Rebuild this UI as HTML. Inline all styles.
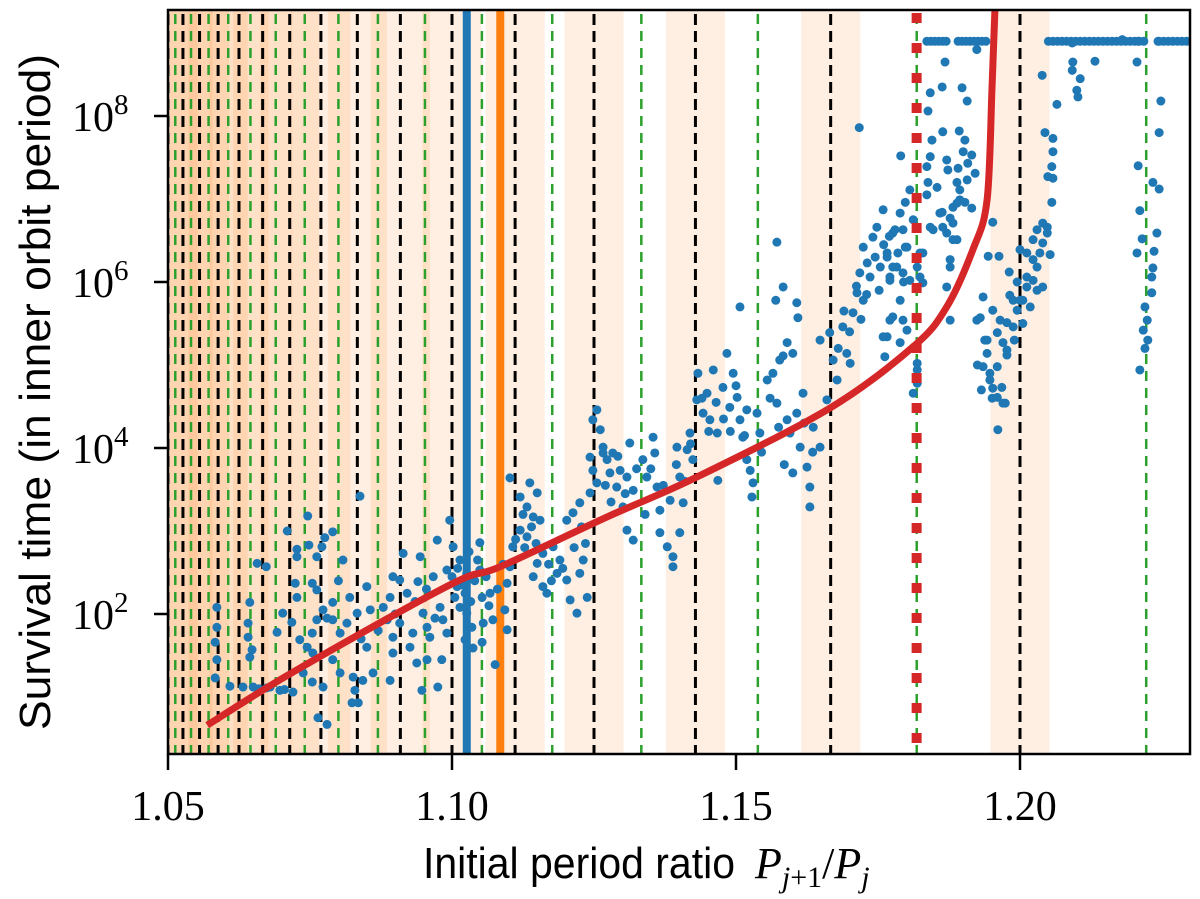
<!DOCTYPE html>
<html><head><meta charset="utf-8"><title>Survival time vs period ratio</title>
<style>html,body{margin:0;padding:0;background:#fff;}svg{display:block;}</style></head>
<body>
<svg id="chart" width="1200" height="899" viewBox="0 0 1200 899" xmlns="http://www.w3.org/2000/svg">
<defs><clipPath id="plotclip"><rect x="168" y="10" width="1022" height="744"/></clipPath></defs>
<g id="bands" clip-path="url(#plotclip)"></g>
<g id="reslines" clip-path="url(#plotclip)"></g>
<g id="vlines" clip-path="url(#plotclip)"></g>
<g id="points" clip-path="url(#plotclip)"></g>
<g id="curves" clip-path="url(#plotclip)"></g>
<rect x="168" y="10" width="1022" height="744" fill="none" stroke="#000" stroke-width="2.5"/>
<g id="axes"></g>
<text y="878" font-size="44" fill="#000"><tspan x="423" font-family="'Liberation Sans', sans-serif" textLength="312" lengthAdjust="spacingAndGlyphs">Initial period ratio</tspan><tspan x="755" font-family="'Liberation Serif', serif" font-style="italic">P</tspan><tspan font-family="'Liberation Serif', serif" font-style="italic" font-size="30" dy="9">j</tspan><tspan font-family="'Liberation Serif', serif" font-size="30">+1</tspan><tspan font-family="'Liberation Serif', serif" dy="-9">/</tspan><tspan font-family="'Liberation Serif', serif" font-style="italic">P</tspan><tspan font-family="'Liberation Serif', serif" font-style="italic" font-size="30" dy="9">j</tspan></text>
<text transform="translate(50,392) rotate(-90)" text-anchor="middle" font-family="'Liberation Sans', sans-serif" font-size="44" textLength="676" lengthAdjust="spacingAndGlyphs" fill="#000">Survival time (in inner orbit period)</text>
</svg>
<script>
const xTicks = [1.05, 1.10, 1.15, 1.20];
const xTickLabels = ["1.05", "1.10", "1.15", "1.20"];
const yTickExps = [2, 4, 6, 8];
const firstOrderK = [5,6,7,8,9,10,11,12,13,14,15,16,17,18,19,20];
const secondOrderK = [9,11,13,15,17,19,21,23,25,27,29,31,33,35,37,39];
const bandHalfWidth = 0.0052;
const blueLineX = 1.1026;
const orangeLineX = 1.1085;
const redDottedX = 1.1818;
const curveX = [1.0569,1.0720,1.0996,1.1085,1.1273,1.1428,1.1665,1.1812,1.1871,1.1917,1.1942,1.1951,1.1956];
const curveLogY = [0.66,1.30,2.35,2.57,3.17,3.64,4.48,5.22,5.70,6.39,6.99,8.40,9.30];
const capLogY = 8.9;
const capX = [1.1836,1.1843,1.1850,1.1857,1.1864,1.1870,1.1891,1.1898,1.1905,1.1912,1.1919,1.1926,1.1933,1.1940,
1.2050,1.2058,1.2066,1.2074,1.2082,1.2090,1.2098,1.2106,1.2114,1.2122,1.2130,1.2138,1.2146,1.2154,1.2162,1.2170,1.2178,1.2186,1.2194,1.2202,1.2210,1.2218,
1.2245,1.2253,1.2261,1.2269,1.2277,1.2285,1.2293,1.2300];
const pointsX = [1.0586,1.0586,1.0583,1.0586,1.0583,1.0609,1.0632,1.0650,1.0674,1.0697,1.0720,1.0644,1.0641,1.0641,1.0648,1.0644,1.0657,1.0673,1.0692,1.0702,
1.0710,1.0727,1.0727,1.0724,1.0727,1.0718,1.0732,1.0746,1.0748,1.0754,1.0762,1.0771,1.0776,1.0790,1.0808,1.0762,1.0762,1.0754,1.0745,1.0755,
1.0738,1.0754,1.0764,1.0780,1.0773,1.0773,1.0790,1.0790,1.0803,1.0790,1.0803,1.0815,1.0833,1.0838,1.0829,1.0824,1.0835,1.0843,1.0826,1.0850,
1.0856,1.0850,1.0861,1.0879,1.0886,1.0891,1.0896,1.0896,1.0896,1.0891,1.0908,1.0914,1.0908,1.0921,1.0926,1.0931,1.0938,1.0944,1.0940,1.0949,
1.0956,1.0961,1.0956,1.0947,1.0975,1.0974,1.0967,1.0979,1.0984,1.0982,1.0991,1.0996,1.0991,1.1002,1.1014,1.1009,1.1014,1.1026,1.1023,1.1026,
1.1035,1.1023,1.1037,1.1049,1.1049,1.1053,1.1055,1.1053,1.1067,1.1072,1.1076,1.1097,1.1097,1.1102,1.1107,1.1102,1.1120,1.1132,1.1137,1.1150,
1.1120,1.1132,1.1143,1.1155,1.1160,1.1150,1.1143,1.1160,1.1167,1.1178,1.1190,1.1185,1.1202,1.1213,1.1225,1.1202,1.1208,1.1220,1.1225,1.1238,
1.1231,1.1243,1.1248,1.1261,1.1266,1.1255,
1.1248,1.1255,1.1243,1.1266,1.1273,1.1283,1.1278,1.1296,1.1290,1.1308,1.1313,1.1319,1.1301,1.1308,1.1319,1.1336,1.1343,1.1354,1.1357,1.1361,
1.1366,1.1366,1.1379,1.1389,1.1389,1.1384,1.1401,1.1396,1.1414,1.1419,1.1401,1.1407,1.1424,1.1433,1.1431,1.1442,1.1449,1.1460,1.1454,1.1467,
1.1477,1.1484,1.1489,1.1495,1.1502,1.1507,1.1519,1.1512,1.1468,1.1507,1.1519,1.1525,1.1530,1.1528,1.1537,1.1542,1.1555,1.1565,1.1572,1.1577,
1.1583,1.1572,1.1590,1.1590,1.1600,1.1595,1.1607,1.1607,1.1609,1.1613,1.1618,1.1625,1.1630,1.1630,1.1636,1.1648,1.1648,1.1660,1.1665,1.1671,
1.1678,1.1688,1.1695,1.1701,1.1706,1.1713,1.1724,1.1718,1.1731,1.1724,1.1741,1.1736,1.1754,1.1748,1.1759,1.1766,1.1771,1.1776,1.1783,1.1789,
1.1766,1.1776,1.1794,1.1789,1.1801,1.1806,1.1812,1.1819,1.1824,1.1829,1.1812,1.1819,1.1842,1.1859,1.1871,1.1882,1.1877,1.1871,1.1877,1.1889,
1.1894,1.1935,1.1924,1.1942,1.1935,1.1947,1.1960,1.1970,1.1961,1.1977,1.1988,1.2000,1.2012,1.2023,1.2040,1.2048,
1.1868,1.1924,1.1842,1.1863,1.1898,1.1907,1.1838,1.1864,1.1893,1.1845,1.1903,1.1790,1.1842,1.1871,1.1900,1.1915,1.1836,1.1873,1.1891,1.1908,
1.1921,1.1838,1.1854,1.1889,1.1907,1.1836,1.1894,1.1806,1.1798,1.1889,1.1903,1.1915,1.1863,1.1877,1.1847,1.1864,1.1882,1.1882,1.1780,1.1798,
1.1829,1.1766,1.1776,1.1771,1.1794,1.1824,1.1877,1.1771,1.1794,1.1801,1.1759,1.1762,1.1789,1.1819,1.1819,1.1952,1.1944,1.1963,1.1981,1.1995,
1.1982,1.1930,1.1938,1.1952,1.1965,1.1977,1.1960,1.1970,1.1977,1.1942,1.1960,1.1947,1.1952,1.1968,1.1974,1.1951,1.2000,1.2012,1.2023,1.2030,
1.2040,1.2048,1.2035,1.2030,1.2023,1.2040,1.2012,1.2005,1.1988,1.1995,1.2053,1.2058,1.2058,1.2056,1.2049,1.2058,1.2056,1.2044,1.2039,1.2065,
1.2092,1.2093,1.2092,1.2106,1.2100,1.2102,1.2132,1.2180,1.2206,1.2208,1.2243,1.2248,1.2245,1.2208,1.2234,1.2245,1.2211,1.2241,1.2215,1.2206,
1.2236,1.2234,1.2232,1.2232,1.2220,1.2224,1.2217,1.2225,1.2220,1.2211,1.1717,1.1570,1.1583,
1.1000,1.1005,1.1010,1.1018,1.1030,1.1033,1.1040,1.1045,1.1060,1.1065,1.1080,1.1090,1.1093,1.1112,1.1125,1.1128,1.1140,1.1148,1.1170,1.1175,
1.1195,1.1215,1.1228,1.1235,1.1270,1.1280,1.1292,1.1305,1.1325,1.1340,1.1350,1.1372,1.1395,1.1410,1.1420,1.1440,1.1452,1.1465,1.1478,1.1490,
1.1500,1.1515,1.1545,1.1560,1.1575,1.1585,1.1600,1.1620,1.1635,1.1680,1.1690,1.1700,1.1712,1.1720,1.1730,1.1745,1.1752,1.1760,1.1770,1.1785,
1.1795,1.0660,1.0680,1.0705,1.0780,1.0800,1.0820,1.0840,1.0870,1.0900,1.0935,1.0955,1.0970,1.2005,1.2018,1.2030,1.1990,1.1925,1.1932];
const pointsLogY = [2.08,1.84,1.66,1.45,1.23,1.13,1.12,1.12,1.11,1.08,1.06,2.14,1.89,1.72,1.57,1.48,2.61,2.57,1.78,2.01,
3.00,2.78,2.69,2.37,2.20,1.90,1.69,3.18,2.83,2.37,2.69,2.81,2.92,2.99,2.65,2.29,1.93,1.77,1.60,1.53,
1.29,1.18,0.75,0.67,1.12,2.05,2.14,1.93,1.77,1.45,1.29,1.89,2.01,3.42,1.08,0.93,0.93,1.20,1.24,2.33,
2.05,1.60,1.29,2.08,1.93,2.20,2.45,1.72,1.53,1.20,1.89,2.73,2.41,2.25,1.60,1.77,1.41,2.69,2.39,2.01,
1.84,1.72,1.45,1.08,1.12,2.89,2.45,2.08,1.93,1.45,1.77,3.13,2.53,2.81,2.65,2.33,2.08,2.49,2.25,2.01,
1.84,1.69,1.59,2.86,2.53,2.20,1.89,1.66,2.25,1.93,1.39,1.81,2.37,3.64,2.81,2.57,3.41,3.29,3.58,3.46,
3.01,2.93,3.17,3.13,2.73,2.61,2.45,2.33,2.25,2.81,2.65,2.49,3.13,3.22,3.34,2.41,2.17,2.01,2.49,2.20,
2.65,3.46,3.73,4.22,3.94,3.58,
4.34,4.46,3.89,4.01,3.86,3.94,3.70,3.73,3.53,3.65,4.06,3.49,3.29,3.01,2.89,3.86,3.65,4.13,3.94,3.53,
3.25,2.98,2.81,2.69,2.57,3.37,3.65,4.01,3.98,4.18,2.98,3.34,3.86,4.90,4.58,4.42,4.66,4.94,4.34,4.18,
4.73,5.14,4.49,4.90,4.61,4.34,4.46,4.13,3.61,5.70,3.86,3.73,3.58,3.41,4.42,4.18,4.82,4.90,4.54,5.06,
5.94,6.48,4.34,5.27,5.14,4.18,4.42,5.75,5.57,4.01,4.66,3.77,3.53,3.29,4.25,4.01,5.30,4.58,5.39,5.06,
4.82,5.46,5.14,5.02,5.63,5.87,5.78,6.11,6.23,6.42,6.54,6.06,6.18,6.66,6.87,6.35,6.02,6.59,6.18,5.78,
5.34,5.58,6.63,6.83,6.42,6.02,6.75,6.18,6.35,5.99,4.66,4.94,6.66,6.83,6.59,6.90,6.27,5.94,5.54,6.51,
6.99,5.82,5.54,5.30,4.98,4.82,4.61,4.54,4.22,5.18,5.46,5.78,6.06,6.27,6.47,6.66,
8.65,8.80,8.28,8.35,8.34,8.18,8.06,7.81,7.82,7.71,7.71,7.52,7.51,7.47,7.57,7.53,7.39,7.35,7.37,7.43,
7.31,7.20,7.14,7.20,7.23,7.05,7.11,7.11,6.96,6.95,6.96,6.89,6.84,6.77,6.63,6.66,6.71,6.51,6.63,6.42,
6.35,6.30,6.18,6.06,6.11,6.06,6.18,5.54,5.54,5.42,5.34,5.10,5.27,5.02,4.78,6.72,6.31,6.31,6.12,6.00,
5.84,5.57,5.30,5.66,5.54,5.51,5.39,5.27,5.12,5.14,4.98,4.90,4.72,4.73,4.54,4.60,6.39,6.35,6.51,6.63,
6.71,6.59,6.35,6.18,6.02,5.94,5.94,5.78,5.78,5.66,6.33,7.73,7.57,7.39,7.27,7.25,6.96,7.80,8.49,8.14,
8.88,8.65,8.55,8.45,8.31,8.23,8.66,8.92,8.65,8.90,8.90,8.18,7.80,7.40,7.20,7.12,6.86,6.59,6.52,6.35,
6.37,6.17,6.06,5.87,5.70,5.54,5.42,5.30,5.20,4.94,7.86,5.78,5.11,
2.45,2.20,2.55,2.35,2.75,2.15,2.40,2.65,2.45,2.10,2.30,2.60,2.05,2.90,3.20,2.80,3.05,2.85,2.60,2.40,
2.55,2.80,3.05,2.85,3.55,3.35,3.90,3.45,3.75,3.20,3.75,3.55,3.80,3.60,4.05,4.60,4.20,4.55,4.35,4.20,
4.75,4.15,3.95,4.60,4.25,3.80,3.70,4.30,3.95,5.20,5.65,5.40,5.95,5.55,5.85,6.30,5.90,6.45,6.55,6.35,
6.00,1.10,1.12,1.09,1.95,2.40,2.20,1.70,1.80,2.00,2.15,2.30,1.95,5.50,5.70,5.90,5.30,5.00,4.70];

const NS = "http://www.w3.org/2000/svg";
const X = r => 168 + (r - 1.05) * 5680;
const Y = L => 614 - (L - 2) * 83;
const TOP = 10, BOT = 754;
function mk(tag, attrs, parent) {
  const e = document.createElementNS(NS, tag);
  for (const k in attrs) e.setAttribute(k, attrs[k]);
  parent.appendChild(e);
  return e;
}
const gB = document.getElementById('bands');
firstOrderK.forEach(k => {
  const r = (k + 1) / k;
  const el = mk('rect', {x: X(r - bandHalfWidth), y: TOP, width: X(r + bandHalfWidth) - X(r - bandHalfWidth), height: BOT - TOP, fill: '#ff7f0e', 'fill-opacity': 0.12}, gB);
  
  
});
const gL = document.getElementById('reslines');
secondOrderK.forEach(k => {
  const x = X((k + 2) / k);
  const el = mk('line', {x1: x, x2: x, y1: TOP + 4, y2: BOT, stroke: '#2ca02c', 'stroke-width': 2.5, 'stroke-dasharray': '10 7'}, gL);
  
  
});
firstOrderK.forEach(k => {
  const x = X((k + 1) / k);
  const el = mk('line', {x1: x, x2: x, y1: TOP + 4, y2: BOT, stroke: '#000', 'stroke-width': 3, 'stroke-dasharray': '11 6'}, gL);
  
  
});
const gV = document.getElementById('vlines');
let vb = mk('line', {x1: X(blueLineX), x2: X(blueLineX), y1: TOP, y2: BOT, stroke: '#1f77b4', 'stroke-width': 8}, gV);


let vo = mk('line', {x1: X(orangeLineX), x2: X(orangeLineX), y1: TOP, y2: BOT, stroke: '#ff7f0e', 'stroke-width': 8}, gV);



const gP = document.getElementById('points');
pointsX.forEach((r, i) => {
  const c = mk('circle', {cx: X(r), cy: Y(pointsLogY[i]), r: 4.5, fill: '#1f77b4'}, gP);
  
  
});
capX.forEach(r => {
  const c = mk('circle', {cx: X(r), cy: Y(capLogY), r: 4.5, fill: '#1f77b4'}, gP);
  
  
});

const gC = document.getElementById('curves');
let rd = mk('line', {x1: X(redDottedX), x2: X(redDottedX), y1: TOP + 3, y2: BOT, stroke: '#d62728', 'stroke-width': 10, 'stroke-dasharray': '10 20'}, gC);


// smooth Catmull-Rom path through curve samples
const pts = curveX.map((r, i) => [X(r), Y(curveLogY[i])]);
let d = 'M' + pts[0][0].toFixed(1) + ',' + pts[0][1].toFixed(1);
for (let i = 0; i < pts.length - 1; i++) {
  const p0 = pts[Math.max(0, i - 1)], p1 = pts[i], p2 = pts[i + 1], p3 = pts[Math.min(pts.length - 1, i + 2)];
  const c1 = [p1[0] + (p2[0] - p0[0]) / 6, p1[1] + (p2[1] - p0[1]) / 6];
  const c2 = [p2[0] - (p3[0] - p1[0]) / 6, p2[1] - (p3[1] - p1[1]) / 6];
  d += ' C' + c1[0].toFixed(1) + ',' + c1[1].toFixed(1) + ' ' + c2[0].toFixed(1) + ',' + c2[1].toFixed(1) + ' ' + p2[0].toFixed(1) + ',' + p2[1].toFixed(1);
}
let rc = mk('path', {d: d, fill: 'none', stroke: '#d62728', 'stroke-width': 7, 'stroke-linejoin': 'round'}, gC);



const gA = document.getElementById('axes');
xTicks.forEach((t, i) => {
  const x = X(t);
  const tk = mk('line', {x1: x, x2: x, y1: BOT, y2: BOT + 16, stroke: '#000', 'stroke-width': 2.5}, gA);
  
  
  const tx = mk('text', {x: x, y: 820, 'text-anchor': 'middle', 'font-family': "'Liberation Serif', serif", 'font-size': 42}, gA);
  tx.textContent = xTickLabels[i];
  
  
});
yTickExps.forEach(e => {
  const y = Y(e);
  const tk = mk('line', {x1: 154, x2: 168, y1: y, y2: y, stroke: '#000', 'stroke-width': 2.5}, gA);
  
  
  const tx = mk('text', {x: 72, y: y + 15, 'font-family': "'Liberation Serif', serif", 'font-size': 42}, gA);
  
  
  const a = mk('tspan', {}, tx); a.textContent = '10';
  const b = mk('tspan', {'font-size': 29, dy: -17}, tx); b.textContent = String(e);
});
</script>
</body></html>
